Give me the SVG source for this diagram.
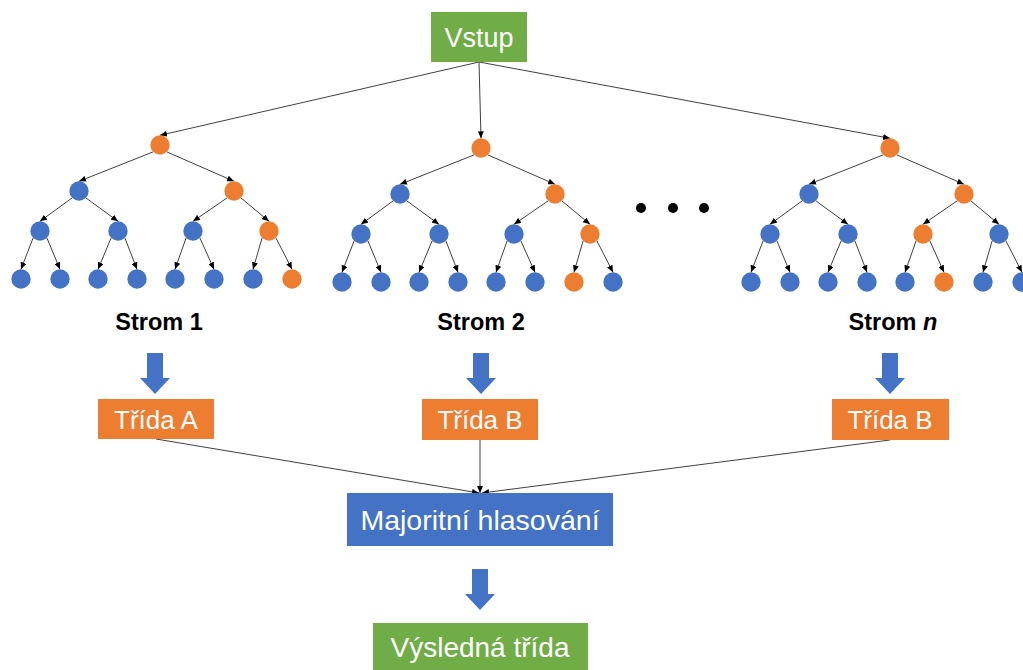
<svg xmlns="http://www.w3.org/2000/svg" width="1023" height="670" viewBox="0 0 1023 670">
<style>
.g{fill:#70AD47}
.o{fill:#ED7D31}
.b{fill:#4472C4}
.t{font-family:"Liberation Sans",Arial,sans-serif;fill:#ffffff;text-anchor:middle}
.lb{font-family:"Liberation Sans",Arial,sans-serif;font-weight:bold;fill:#000;text-anchor:middle;font-size:23.5px}
.e{fill:none;stroke:#404040;stroke-width:1;marker-end:url(#ah)}
.dot{fill:#000}
</style>
<defs>
<marker id="ah" markerUnits="userSpaceOnUse" markerWidth="7" markerHeight="6" refX="7" refY="3" orient="auto">
<path d="M0,0 L7,3 L0,6 z" fill="#000"/>
</marker>
<path id="barrow" d="M-8,0 H8 V25 H15 L0,41 L-15,25 H-8 Z" fill="#4472C4"/>
</defs>
<rect width="1023" height="670" fill="#ffffff"/>

<g id="connectors">
<path class="e" d="M479,62 L160,135.3"/>
<path class="e" d="M479,62 L481,138.3"/>
<path class="e" d="M479,62 L890,138.3"/>
<g id="edges-t1">
<path class="e" d="M153.1,151.9 L79,181.3"/>
<path class="e" d="M166.9,151.9 L234,181.3"/>
<path class="e" d="M72.1,197.9 L40,221.3"/>
<path class="e" d="M85.9,197.9 L118,221.3"/>
<path class="e" d="M227.1,197.9 L193,221.3"/>
<path class="e" d="M240.9,197.9 L269,221.3"/>
<path class="e" d="M33.1,237.9 L21,269.3"/>
<path class="e" d="M46.9,237.9 L60,269.3"/>
<path class="e" d="M111.1,237.9 L98,269.3"/>
<path class="e" d="M124.9,237.9 L137,269.3"/>
<path class="e" d="M186.1,237.9 L175,269.3"/>
<path class="e" d="M199.9,237.9 L214,269.3"/>
<path class="e" d="M262.1,237.9 L253,269.3"/>
<path class="e" d="M275.9,237.9 L292,269.3"/>
</g>
<g id="edges-t2" transform="translate(321,3)">
<path class="e" d="M153.1,151.9 L79,181.3"/>
<path class="e" d="M166.9,151.9 L234,181.3"/>
<path class="e" d="M72.1,197.9 L40,221.3"/>
<path class="e" d="M85.9,197.9 L118,221.3"/>
<path class="e" d="M227.1,197.9 L193,221.3"/>
<path class="e" d="M240.9,197.9 L269,221.3"/>
<path class="e" d="M33.1,237.9 L21,269.3"/>
<path class="e" d="M46.9,237.9 L60,269.3"/>
<path class="e" d="M111.1,237.9 L98,269.3"/>
<path class="e" d="M124.9,237.9 L137,269.3"/>
<path class="e" d="M186.1,237.9 L175,269.3"/>
<path class="e" d="M199.9,237.9 L214,269.3"/>
<path class="e" d="M262.1,237.9 L253,269.3"/>
<path class="e" d="M275.9,237.9 L292,269.3"/>
</g>
<g id="edges-t3" transform="translate(730,3)">
<path class="e" d="M153.1,151.9 L79,181.3"/>
<path class="e" d="M166.9,151.9 L234,181.3"/>
<path class="e" d="M72.1,197.9 L40,221.3"/>
<path class="e" d="M85.9,197.9 L118,221.3"/>
<path class="e" d="M227.1,197.9 L193,221.3"/>
<path class="e" d="M240.9,197.9 L269,221.3"/>
<path class="e" d="M33.1,237.9 L21,269.3"/>
<path class="e" d="M46.9,237.9 L60,269.3"/>
<path class="e" d="M111.1,237.9 L98,269.3"/>
<path class="e" d="M124.9,237.9 L137,269.3"/>
<path class="e" d="M186.1,237.9 L175,269.3"/>
<path class="e" d="M199.9,237.9 L214,269.3"/>
<path class="e" d="M262.1,237.9 L253,269.3"/>
<path class="e" d="M275.9,237.9 L292,269.3"/>
</g>
<path class="e" d="M156,439 L479,493"/>
<path class="e" d="M480,440 L480,493"/>
<path class="e" d="M890,440 L482,493"/>
</g>

<g id="vstup">
<rect class="g" x="431" y="12" width="96" height="50"/>
<text class="t" x="479" y="46.5" font-size="27">Vstup</text>
</g>

<g id="tree1">
<g id="t1-n1"><circle class="o" cx="160" cy="145" r="9.7"/></g>
<g id="t1-n2"><circle class="b" cx="79" cy="191" r="9.7"/></g>
<g id="t1-n3"><circle class="o" cx="234" cy="191" r="9.7"/></g>
<g id="t1-n4"><circle class="b" cx="40" cy="231" r="9.7"/></g>
<g id="t1-n5"><circle class="b" cx="118" cy="231" r="9.7"/></g>
<g id="t1-n6"><circle class="b" cx="193" cy="231" r="9.7"/></g>
<g id="t1-n7"><circle class="o" cx="269" cy="231" r="9.7"/></g>
<g id="t1-n8"><circle class="b" cx="21" cy="279" r="9.7"/></g>
<g id="t1-n9"><circle class="b" cx="60" cy="279" r="9.7"/></g>
<g id="t1-n10"><circle class="b" cx="98" cy="279" r="9.7"/></g>
<g id="t1-n11"><circle class="b" cx="137" cy="279" r="9.7"/></g>
<g id="t1-n12"><circle class="b" cx="175" cy="279" r="9.7"/></g>
<g id="t1-n13"><circle class="b" cx="214" cy="279" r="9.7"/></g>
<g id="t1-n14"><circle class="b" cx="253" cy="279" r="9.7"/></g>
<g id="t1-n15"><circle class="o" cx="292" cy="279" r="9.7"/></g>
</g>

<g id="tree2" transform="translate(321,3)">
<g id="t2-n1"><circle class="o" cx="160" cy="145" r="9.7"/></g>
<g id="t2-n2"><circle class="b" cx="79" cy="191" r="9.7"/></g>
<g id="t2-n3"><circle class="o" cx="234" cy="191" r="9.7"/></g>
<g id="t2-n4"><circle class="b" cx="40" cy="231" r="9.7"/></g>
<g id="t2-n5"><circle class="b" cx="118" cy="231" r="9.7"/></g>
<g id="t2-n6"><circle class="b" cx="193" cy="231" r="9.7"/></g>
<g id="t2-n7"><circle class="o" cx="269" cy="231" r="9.7"/></g>
<g id="t2-n8"><circle class="b" cx="21" cy="279" r="9.7"/></g>
<g id="t2-n9"><circle class="b" cx="60" cy="279" r="9.7"/></g>
<g id="t2-n10"><circle class="b" cx="98" cy="279" r="9.7"/></g>
<g id="t2-n11"><circle class="b" cx="137" cy="279" r="9.7"/></g>
<g id="t2-n12"><circle class="b" cx="175" cy="279" r="9.7"/></g>
<g id="t2-n13"><circle class="b" cx="214" cy="279" r="9.7"/></g>
<g id="t2-n14"><circle class="o" cx="253" cy="279" r="9.7"/></g>
<g id="t2-n15"><circle class="b" cx="292" cy="279" r="9.7"/></g>
</g>

<g id="tree3" transform="translate(730,3)">
<g id="t3-n1"><circle class="o" cx="160" cy="145" r="9.7"/></g>
<g id="t3-n2"><circle class="b" cx="79" cy="191" r="9.7"/></g>
<g id="t3-n3"><circle class="o" cx="234" cy="191" r="9.7"/></g>
<g id="t3-n4"><circle class="b" cx="40" cy="231" r="9.7"/></g>
<g id="t3-n5"><circle class="b" cx="118" cy="231" r="9.7"/></g>
<g id="t3-n6"><circle class="o" cx="193" cy="231" r="9.7"/></g>
<g id="t3-n7"><circle class="b" cx="269" cy="231" r="9.7"/></g>
<g id="t3-n8"><circle class="b" cx="21" cy="279" r="9.7"/></g>
<g id="t3-n9"><circle class="b" cx="60" cy="279" r="9.7"/></g>
<g id="t3-n10"><circle class="b" cx="98" cy="279" r="9.7"/></g>
<g id="t3-n11"><circle class="b" cx="137" cy="279" r="9.7"/></g>
<g id="t3-n12"><circle class="b" cx="175" cy="279" r="9.7"/></g>
<g id="t3-n13"><circle class="o" cx="214" cy="279" r="9.7"/></g>
<g id="t3-n14"><circle class="b" cx="253" cy="279" r="9.7"/></g>
<g id="t3-n15"><circle class="b" cx="292" cy="279" r="9.7"/></g>
</g>

<g id="ellipsis">
<circle class="dot" cx="641" cy="208" r="5"/>
<circle class="dot" cx="673" cy="208" r="5"/>
<circle class="dot" cx="704" cy="208" r="5"/>
</g>

<g id="labels">
<text class="lb" x="159" y="330">Strom 1</text>
<text class="lb" x="481" y="330">Strom 2</text>
<text class="lb" x="893" y="330">Strom <tspan font-style="italic">n</tspan></text>
</g>

<g id="block-arrows">
<use href="#barrow" transform="translate(155,353)"/>
<use href="#barrow" transform="translate(481,353)"/>
<use href="#barrow" transform="translate(890,353)"/>
<use href="#barrow" transform="translate(480,569)"/>
</g>

<g id="trida1">
<rect class="o" x="98" y="399" width="116" height="40"/>
<text class="t" x="156" y="428.5" font-size="26">Třída A</text>
</g>
<g id="trida2">
<rect class="o" x="422" y="399" width="116" height="41"/>
<text class="t" x="480" y="429" font-size="26">Třída B</text>
</g>
<g id="trida3">
<rect class="o" x="832" y="399" width="117" height="41"/>
<text class="t" x="890" y="429" font-size="26">Třída B</text>
</g>

<g id="majoritni">
<rect class="b" x="347" y="493" width="266" height="53"/>
<text class="t" x="480" y="529.5" font-size="28.5">Majoritní hlasování</text>
</g>

<g id="vysledna">
<rect class="g" x="373" y="623" width="215" height="52"/>
<text class="t" x="480" y="657" font-size="28">Výsledná třída</text>
</g>
</svg>
